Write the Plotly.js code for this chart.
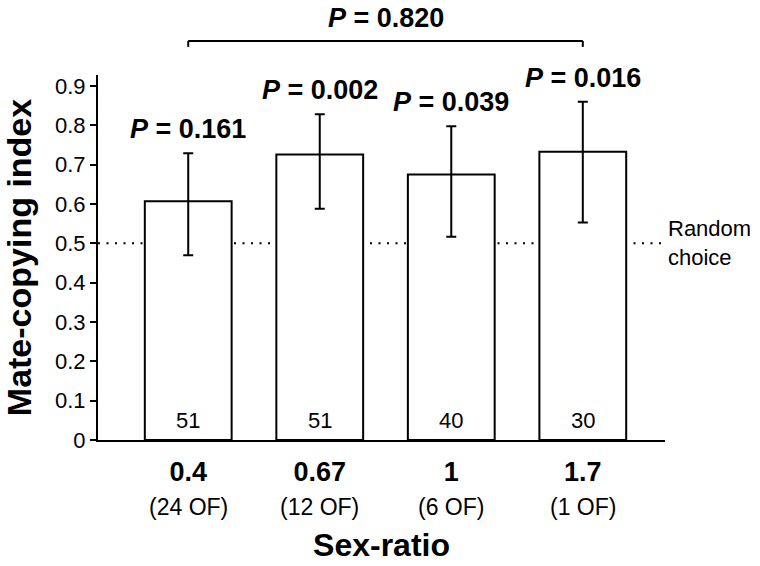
<!DOCTYPE html>
<html>
<head>
<meta charset="utf-8">
<script src="https://cdn.plot.ly/plotly-3.0.1.min.js"></script>
<style>
  body { margin: 0; background: #fff; }
  #chart { width: 760px; height: 566px; }
</style>
</head>
<body>
<div id="chart"></div>
<script>
// sex-ratio treatments and the mate-copying index per treatment
var categories = ['0.4', '0.67', '1', '1.7'];
var ofLabels = ['(24 OF)', '(12 OF)', '(6 OF)', '(1 OF)'];
var means = [0.607, 0.726, 0.675, 0.733];
var errPlus = [0.122, 0.102, 0.123, 0.127];
var errMinus = [0.137, 0.138, 0.158, 0.180];
var nCounts = ['51', '51', '40', '30'];
var pValues = ['0.161', '0.002', '0.039', '0.016'];
var overallP = '0.820';
var randomLevel = 0.5;

var font = 'Liberation Sans, Arial, sans-serif';

var data = [
    {
        x: categories,
        y: means,
        type: 'bar',
        width: 0.66,
        marker: {
            color: 'white',
            line: {color: 'black', width: 2}
        },
        error_y: {
            type: 'data',
            symmetric: false,
            array: errPlus,
            arrayminus: errMinus,
            color: 'black',
            thickness: 2,
            width: 5
        }
    }
];

// category names look like numbers, so annotations use the category index
var annotations = [];
for (var i = 0; i < categories.length; i++) {
    // P value above each error bar
    annotations.push({
        x: i, y: means[i] + errPlus[i],
        xref: 'x', yref: 'y',
        yanchor: 'bottom', yshift: 7,
        text: '<b><i>P</i> = ' + pValues[i] + '</b>',
        showarrow: false,
        font: {family: font, size: 27, color: 'black'}
    });
    // sample size inside bar
    annotations.push({
        x: i, y: 0,
        xref: 'x', yref: 'y',
        yanchor: 'bottom', yshift: 5,
        text: nCounts[i],
        showarrow: false,
        font: {family: font, size: 22, color: 'black'}
    });
    // number of other females under the tick label
    annotations.push({
        x: i, y: -0.1836,
        xref: 'x', yref: 'paper',
        yanchor: 'middle',
        text: ofLabels[i],
        showarrow: false,
        font: {family: font, size: 23, color: 'black'}
    });
}
annotations.push({
    x: 1, y: randomLevel,
    xref: 'paper', yref: 'y',
    xanchor: 'left', yanchor: 'middle', xshift: 1,
    align: 'left',
    text: 'Random<br>choice',
    showarrow: false,
    font: {family: font, size: 22, color: 'black'}
});
annotations.push({
    x: (categories.length - 1) / 2, y: 1.156,
    xref: 'x', yref: 'paper',
    yanchor: 'middle',
    text: '<b><i>P</i> = ' + overallP + '</b>',
    showarrow: false,
    font: {family: font, size: 27, color: 'black'}
});

var last = categories.length - 1;
var bracketLine = {color: 'black', width: 2};
var shapes = [
    {
        type: 'line', xref: 'paper', yref: 'y',
        x0: 0, x1: 1, y0: randomLevel, y1: randomLevel,
        layer: 'below',
        line: {color: 'black', width: 2, dash: '2px,6.5px'}
    },
    {type: 'line', xref: 'x', yref: 'paper', x0: 0, x1: last, y0: 1.093, y1: 1.093, line: bracketLine},
    {type: 'line', xref: 'x', yref: 'paper', x0: 0, x1: 0, y0: 1.077, y1: 1.093, line: bracketLine},
    {type: 'line', xref: 'x', yref: 'paper', x0: last, x1: last, y0: 1.077, y1: 1.093, line: bracketLine}
];

var layout = {
    width: 760,
    height: 566,
    margin: {l: 98, r: 95, t: 75, b: 126},
    paper_bgcolor: 'white',
    plot_bgcolor: 'white',
    showlegend: false,
    hovermode: false,
    font: {family: font, color: 'black'},
    xaxis: {
        type: 'category',
        range: [-0.686, 3.625],
        showline: true,
        linecolor: 'black',
        linewidth: 2,
        ticks: '',
        showgrid: false,
        zeroline: false,
        tickfont: {family: font, size: 27, weight: 'bold', color: 'black'},
        ticklabelstandoff: 7,
        title: {
            text: 'Sex-ratio',
            font: {family: font, size: 32, weight: 'bold', color: 'black'},
            standoff: 47
        }
    },
    yaxis: {
        range: [0, 0.928],
        tick0: 0,
        dtick: 0.1,
        showline: true,
        linecolor: 'black',
        linewidth: 2,
        ticks: 'outside',
        ticklen: 6,
        tickwidth: 2,
        tickcolor: 'black',
        showgrid: false,
        zeroline: false,
        tickfont: {family: font, size: 22, color: 'black'},
        title: {
            text: 'Mate-copying index',
            font: {family: font, size: 34, weight: 'bold', color: 'black'},
            standoff: 14
        }
    },
    annotations: annotations,
    shapes: shapes
};

Plotly.newPlot('chart', data, layout, {staticPlot: true});
</script>
</body>
</html>
